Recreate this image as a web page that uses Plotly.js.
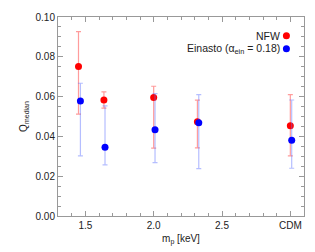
<!DOCTYPE html>
<html><head><meta charset="utf-8">
<script src="https://cdn.plot.ly/plotly-3.0.1.min.js"></script>
<style>html,body{margin:0;padding:0;background:#fff}#c{width:315px;height:252px}</style>
</head><body><div id="c"></div>
<script>
var nfwX = [1.45, 1.636, 2.0, 2.32, 3.0];
var nfwY = [0.0751, 0.0583, 0.0595, 0.0473, 0.0454];
var nfwHi = [0.0927, 0.0624, 0.0652, 0.0582, 0.0610];
var nfwLo = [0.0512, 0.0542, 0.0341, 0.0342, 0.0302];
var einX = [1.464, 1.644, 2.01, 2.33, 3.01];
var einY = [0.0578, 0.0345, 0.0434, 0.0468, 0.0381];
var einHi = [0.0667, 0.0553, 0.0615, 0.0610, 0.0583];
var einLo = [0.0302, 0.0257, 0.0268, 0.0238, 0.0240];
var xTickVals = [1.5, 2.0, 2.5, 3.0];
var xTickText = ["1.5", "2.0", "2.5", "CDM"];
var yTickVals = [0, 0.02, 0.04, 0.06, 0.08, 0.10];
var yTickText = ["0.00", "0.02", "0.04", "0.06", "0.08", "0.10"];
var legendNames = ["NFW", "Einasto (α<sub>ein</sub> = 0.18)"];
var seriesColors = ["#ff0000", "#0000ff"];

function sub(a, b) { return a.map(function (v, i) { return v - b[i]; }); }

var traces = [
  {x: nfwX, y: nfwY, type: 'scatter', mode: 'markers',
   marker: {color: seriesColors[0], size: 7},
   error_y: {type: 'data', symmetric: false, array: sub(nfwHi, nfwY), arrayminus: sub(nfwY, nfwLo),
             color: 'rgba(255,90,90,0.6)', thickness: 1.2, width: 2.5}},
  {x: einX, y: einY, type: 'scatter', mode: 'markers',
   marker: {color: seriesColors[1], size: 7},
   error_y: {type: 'data', symmetric: false, array: sub(einHi, einY), arrayminus: sub(einY, einLo),
             color: 'rgba(90,110,255,0.45)', thickness: 1.2, width: 2.5}}
];

var legY = [0.906, 0.841];
var annotations = [], shapes = [];
legendNames.forEach(function (name, i) {
  annotations.push({xref: 'paper', yref: 'paper', x: 0.9115, y: legY[i], xanchor: 'right', yanchor: 'middle',
    showarrow: false, text: name, font: {size: 10.5}});
  shapes.push({type: 'circle', xref: 'paper', yref: 'paper', xsizemode: 'pixel', ysizemode: 'pixel',
    xanchor: 0.9285, yanchor: legY[i], x0: -3.5, x1: 3.5, y0: -3.5, y1: 3.5,
    fillcolor: seriesColors[i], line: {width: 0}});
});

var axCol = '#999999';
var layout = {
  width: 315, height: 252,
  margin: {l: 58, r: 11, t: 17, b: 36},
  paper_bgcolor: '#fff', plot_bgcolor: '#fff',
  showlegend: false,
  font: {family: 'Liberation Sans, Arial, sans-serif', size: 10, color: '#222'},
  xaxis: {range: [1.3, 3.1], tickmode: 'array', tickvals: xTickVals, ticktext: xTickText,
          ticks: 'inside', ticklen: 5, tickcolor: axCol, showline: true, linecolor: axCol, linewidth: 1,
          mirror: 'allticks', showgrid: false, zeroline: false,
          minor: {tickmode: 'linear', tick0: 1.3, dtick: 0.1, ticks: 'inside', ticklen: 3, tickcolor: axCol},
          title: {text: 'm<sub>p</sub> [keV]', font: {size: 10}, standoff: 4}},
  yaxis: {range: [0, 0.1], tickmode: 'array', tickvals: yTickVals, ticktext: yTickText,
          ticks: 'inside', ticklen: 5, tickcolor: axCol, showline: true, linecolor: axCol, linewidth: 1,
          mirror: 'allticks', showgrid: false, zeroline: false,
          minor: {tickmode: 'linear', tick0: 0, dtick: 0.005, ticks: 'inside', ticklen: 3, tickcolor: axCol},
          title: {text: 'Q<sub>median</sub>', font: {size: 10}, standoff: 6}},
  annotations: annotations,
  shapes: shapes
};
Plotly.newPlot('c', traces, layout, {staticPlot: true, displayModeBar: false});
</script></body></html>
